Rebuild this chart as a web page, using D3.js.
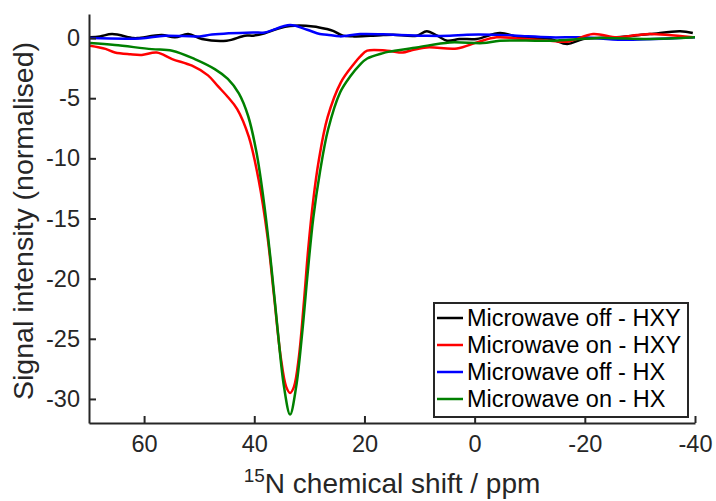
<!DOCTYPE html>
<html>
<head>
<meta charset="utf-8">
<script src="https://cdn.jsdelivr.net/npm/d3@7"></script>
<style>
  body { margin: 0; background: #fff; }
  svg { display: block; font-family: "Liberation Sans", Arial, sans-serif; }
</style>
</head>
<body>
<div id="chart"></div>
<script>
const WIDTH = 716
const HEIGHT = 501

// [ppm, intensity]
const offHXY = [[69.8,0.06],[68.0,0.14],[65.8,0.33],[62.0,0.0],[61.1,0.0],[56.8,0.25],[54.4,0.06],[52.0,0.33],[49.5,-0.08],[45.0,-0.22],[41.7,0.2],[40.2,0.2],[38.1,0.4],[35.9,0.75],[33.5,1.0],[29.3,0.97],[26.8,0.75],[25.7,0.6],[23.9,0.2],[22.1,0.14],[19.0,0.19],[16.6,0.25],[14.8,0.28],[10.5,0.2],[8.7,0.56],[6.8,0.2],[5.0,-0.22],[2.7,-0.08],[-0.4,-0.08],[-4.6,0.42],[-8.2,0.06],[-13.7,-0.08],[-16.8,-0.5],[-19.7,-0.08],[-25.8,0.06],[-31.8,0.33],[-37.3,0.56],[-39.6,0.42]]
const onHXY = [[69.8,-0.64],[67.0,-0.9],[65.3,-1.2],[62.5,-1.35],[60.4,-1.4],[57.7,-1.2],[54.9,-1.75],[51.3,-2.3],[48.4,-3.1],[46.6,-4.0],[44.8,-4.9],[43.1,-5.9],[41.0,-8.2],[39.2,-11.8],[37.6,-16.5],[36.4,-21.5],[35.2,-26.5],[34.2,-29.0],[33.5,-29.5],[32.8,-29.0],[31.9,-26.5],[31.0,-22.0],[30.2,-17.5],[29.3,-13.5],[28.3,-10.2],[26.7,-6.6],[24.3,-3.7],[22.0,-2.2],[20.7,-1.5],[19.5,-1.05],[15.9,-1.05],[13.0,-1.2],[11.7,-1.05],[8.7,-0.78],[3.2,-0.86],[-0.4,-0.36],[-4.0,0.06],[-7.7,-0.03],[-13.7,-0.22],[-16.8,-0.3],[-21.5,0.33],[-25.8,0.06],[-29.5,0.25],[-31.8,0.33],[-39.6,0.06]]
const offHX = [[69.8,0.0],[60.7,-0.03],[56.2,0.19],[49.9,0.14],[47.7,0.3],[40.2,0.47],[38.1,0.47],[33.5,1.08],[30.4,0.69],[28.1,0.33],[26.8,0.28],[24.4,0.14],[20.8,0.33],[14.8,0.28],[8.7,0.19],[4.5,0.19],[1.4,0.28],[-3.3,0.28],[-7.7,0.19],[-13.7,0.06],[-19.7,0.06],[-26.9,-0.14],[-40.0,0.06]]
const onHX = [[69.8,-0.42],[65.3,-0.58],[58.6,-0.92],[54.9,-1.05],[50.8,-1.75],[47.1,-2.6],[44.8,-3.4],[42.8,-4.6],[41.1,-6.5],[39.6,-9.5],[38.2,-13.8],[36.9,-19.0],[35.7,-24.5],[34.6,-29.0],[33.5,-31.3],[32.4,-29.0],[31.3,-24.5],[30.3,-19.5],[29.3,-15.0],[28.1,-11.2],[26.6,-7.6],[24.4,-4.5],[22.6,-3.2],[20.8,-2.2],[19.5,-1.7],[16.6,-1.25],[15.7,-1.15],[10.5,-0.78],[4.5,-0.36],[-1.5,-0.42],[-4.6,-0.22],[-13.7,-0.22],[-22.7,0.0],[-31.8,-0.08],[-40.0,0.06]]

const seriesNames = ['Microwave off - HXY', 'Microwave on - HXY', 'Microwave off - HX', 'Microwave on - HX']
const seriesColors = ['#000000', '#ff0000', '#0000ff', '#008000']
const seriesData = [offHXY, onHXY, offHX, onHX]
const xTicks = [60, 40, 20, 0, -20, -40]
const yTicks = [0, -5, -10, -15, -20, -25, -30]

const svg = d3.select('#chart').append('svg').attr('width', WIDTH).attr('height', HEIGHT)

const x = d3.scaleLinear().domain([70, -40]).range([89, 695])
const y = d3.scaleLinear().domain([-32, 2]).range([423, 14])

const line = d3.line()
    .x(d => x(d[0]))
    .y(d => y(d[1]))
    .curve(d3.curveCatmullRom.alpha(0.5))

// draw order: off HXY, off HX, on HXY, on HX
const order = [0, 2, 1, 3]
order.forEach(i => {
    svg.append('path')
        .datum(seriesData[i])
        .attr('d', line)
        .attr('fill', 'none')
        .attr('stroke', seriesColors[i])
        .attr('stroke-width', 2.5)
        .attr('stroke-linejoin', 'round')
})

const xAxis = svg.append('g')
    .attr('transform', `translate(0,${y(-32)})`)
    .call(d3.axisBottom(x).tickValues(xTicks).tickFormat(d => String(d)).tickSizeInner(-7).tickSizeOuter(0).tickPadding(12))
const yAxis = svg.append('g')
    .attr('transform', `translate(${x(70)},0)`)
    .call(d3.axisLeft(y).tickValues(yTicks).tickFormat(d => String(d)).tickSizeInner(-7).tickSizeOuter(0).tickPadding(9))

;[xAxis, yAxis].forEach(g => {
    g.select('.domain').attr('stroke', '#262626').attr('stroke-width', 2)
    g.selectAll('.tick line').attr('stroke', '#262626').attr('stroke-width', 2)
    g.selectAll('.tick text').attr('fill', '#262626').style('font-size', '23.5px')
        .style('font-family', '"Liberation Sans", Arial, sans-serif')
})

// axis labels
const xl = svg.append('text')
    .attr('x', 392).attr('y', 493)
    .attr('text-anchor', 'middle')
    .attr('fill', '#262626')
    .style('font-size', '28px')
xl.append('tspan').text('15').style('font-size', '19px').attr('dy', '-11')
xl.append('tspan').text('N chemical shift / ppm').attr('dy', '11')

svg.append('text')
    .attr('transform', 'translate(33,221) rotate(-90)')
    .attr('text-anchor', 'middle')
    .attr('fill', '#262626')
    .style('font-size', '28.5px')
    .text('Signal intensity (normalised)')

// legend
const legend = svg.append('g')
legend.append('rect')
    .attr('x', 434).attr('y', 303).attr('width', 254).attr('height', 114)
    .attr('fill', '#fff').attr('stroke', '#262626').attr('stroke-width', 2)

seriesNames.forEach((name, i) => {
    const ly = 318 + i * 27
    legend.append('line')
        .attr('x1', 437).attr('x2', 463).attr('y1', ly).attr('y2', ly)
        .attr('stroke', seriesColors[i]).attr('stroke-width', 2.5)
    legend.append('text')
        .attr('x', 467).attr('y', ly + 8)
        .attr('fill', '#000')
        .style('font-size', '23.5px')
        .text(name)
})
</script>
</body>
</html>
